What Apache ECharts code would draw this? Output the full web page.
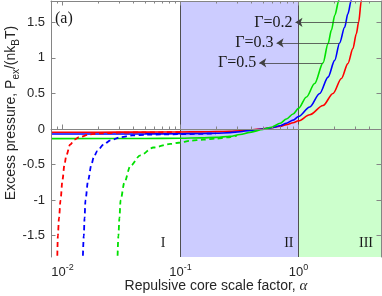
<!DOCTYPE html>
<html><head><meta charset="utf-8">
<script src="https://cdn.jsdelivr.net/npm/echarts@6/dist/echarts.min.js"></script>
<style>html,body{margin:0;padding:0;background:#fff}#c{width:382px;height:296px}</style>
</head><body><div id="c"></div>
<script>
const xMin = 0.008, xMax = 5, yMin = -1.8, yMax = 1.8;
const xMajorTicks = [0.01, 0.1, 1];
const xMinorTicks = [0.009, 0.02, 0.03, 0.04, 0.05, 0.06, 0.07, 0.08, 0.09, 0.2, 0.3, 0.4, 0.5, 0.6, 0.7, 0.8, 0.9, 2, 3, 4];
const yTicks = [-1.5, -1, -0.5, 0, 0.5, 1, 1.5];
const regionEdges = [0.008, 0.1, 1, 5];
const regionNames = ['I', 'II', 'III'];
const gammaLabels = ['\u0393=0.2', '\u0393=0.3', '\u0393=0.5'];
const arrowStart = [[3.22, 1.5], [2.23, 1.21], [1.6, 0.93]];
const arrowEnd = [[0.943, 1.5], [0.652, 1.21], [0.465, 0.93]];

const solidG02 = [[0.008,-0.045],[0.02,-0.045],[0.05,-0.044],[0.1,-0.042],[0.15,-0.04],[0.2,-0.037],[0.263,-0.032],[0.32,-0.024],[0.388,-0.013],[0.5,0.004],[0.59,0.018],[0.7,0.038],[0.79,0.062],[0.9,0.088],[1,0.115],[1.246,0.2],[1.614,0.33],[1.96,0.5],[2.31,0.71],[2.62,0.92],[2.89,1.13],[3.09,1.34],[3.23,1.5],[3.41,1.81],[3.5,1.95]];
const solidG03 = [[0.008,-0.07],[0.05,-0.069],[0.1,-0.067],[0.15,-0.064],[0.2,-0.06],[0.263,-0.051],[0.32,-0.038],[0.388,-0.02],[0.5,0.001],[0.59,0.018],[0.7,0.045],[0.79,0.08],[0.9,0.125],[1,0.175],[1.246,0.31],[1.513,0.5],[1.78,0.73],[2.026,0.965],[2.23,1.21],[2.46,1.43],[2.62,1.62],[2.8,1.81],[2.9,1.95]];
const solidG05 = [[0.008,-0.135],[0.05,-0.134],[0.1,-0.13],[0.15,-0.125],[0.2,-0.118],[0.263,-0.103],[0.32,-0.078],[0.388,-0.047],[0.5,-0.006],[0.59,0.025],[0.7,0.08],[0.79,0.14],[0.9,0.21],[1,0.29],[1.168,0.45],[1.37,0.64],[1.614,0.93],[1.78,1.2],[1.9,1.39],[2.03,1.6],[2.2,1.81],[2.3,1.95]];
const dashG02 = [[0.00902,-1.9],[0.00915,-1.5],[0.00935,-1.25],[0.00964,-1.0],[0.01,-0.72],[0.0104,-0.5],[0.0108,-0.37],[0.0116,-0.22],[0.0127,-0.15],[0.0138,-0.115],[0.017,-0.077],[0.021,-0.062],[0.03,-0.052],[0.05,-0.047],[0.1,-0.044]];
const dashG03 = [[0.01484,-1.9],[0.01517,-1.5],[0.0154,-1.25],[0.01567,-1.0],[0.0165,-0.72],[0.0176,-0.5],[0.0184,-0.4],[0.0197,-0.31],[0.0223,-0.22],[0.0255,-0.16],[0.031,-0.115],[0.039,-0.09],[0.052,-0.08],[0.07,-0.076],[0.1,-0.072],[0.2,-0.063]];
const dashG05 = [[0.0292,-1.9],[0.0298,-1.5],[0.0304,-1.25],[0.0311,-1.0],[0.0335,-0.75],[0.0376,-0.52],[0.0457,-0.37],[0.059,-0.26],[0.082,-0.21],[0.1,-0.19],[0.121,-0.165],[0.156,-0.15],[0.2,-0.135],[0.25,-0.118],[0.3,-0.092]];

const RED = '#ff0000', BLUE = '#0000ff', GREEN = '#00e000';
const AX = '#858585', TXT = '#262626';
const SANS = 'Liberation Sans', SERIF = 'Liberation Serif';

const chart = echarts.init(document.getElementById('c'), null, {renderer: 'canvas'});

function xAxisCfg(pos, ticks, len, showLine, extra) {
  return Object.assign({
    type: 'log', logBase: 10, min: xMin, max: xMax, position: pos, gridIndex: 0, z: 10,
    axisLine: {show: showLine, lineStyle: {color: AX, width: 1}},
    axisTick: {show: true, inside: true, length: len, customValues: ticks, lineStyle: {color: AX, width: 1}},
    axisLabel: {show: false},
    splitLine: {show: false}, minorTick: {show: false}, minorSplitLine: {show: false}
  }, extra || {});
}

const option = {
  animation: false,
  backgroundColor: '#fff',
  title: {text: '(a)', left: 55, top: 11, padding: 0,
    textStyle: {fontFamily: SERIF, fontSize: 16, fontWeight: 'normal', color: '#1a1a1a'}},
  grid: {left: 51, right: 1, top: 1, bottom: 39, containLabel: false, outerBoundsMode: 'none'},
  xAxis: [
    xAxisCfg('bottom', xMajorTicks, 4.5, true, {
      axisLabel: {show: true, customValues: xMajorTicks, margin: 6,
        formatter: v => '{a|10}{b|' + Math.round(Math.log10(v)) + '}',
        rich: {
          a: {fontFamily: SANS, fontSize: 13, color: TXT, lineHeight: 16, verticalAlign: 'bottom'},
          b: {fontFamily: SANS, fontSize: 9, color: TXT, lineHeight: 9, verticalAlign: 'top', padding: [0, 0, 8, 0]}
        }},
      name: '{t|Repulsive core scale factor, }{al|\u03b1}', nameLocation: 'middle', nameGap: 22,
      nameMoveOverlap: false,
      nameTextStyle: {rich: {
        t: {fontFamily: SANS, fontSize: 14, color: TXT},
        al: {fontFamily: SERIF, fontStyle: 'italic', fontSize: 15, color: TXT}
      }}
    }),
    xAxisCfg('bottom', xMinorTicks, 2.5, false),
    xAxisCfg('top', xMajorTicks, 4.5, true),
    xAxisCfg('top', xMinorTicks, 2.5, false)
  ],
  yAxis: [
    {type: 'value', min: yMin, max: yMax, position: 'left', z: 10,
      axisLine: {show: true, lineStyle: {color: AX, width: 1}},
      axisTick: {show: true, inside: true, length: 4.5, customValues: yTicks, lineStyle: {color: AX}},
      axisLabel: {customValues: yTicks, margin: 6, fontFamily: SANS, fontSize: 13, color: TXT,
        formatter: v => String(v)},
      splitLine: {show: false},
      name: '{n|Excess pressure, P}{s|ex}{n|/(nk}{s|B}{n|T)}', nameLocation: 'middle', nameGap: 30,
      nameMoveOverlap: false,
      nameTextStyle: {padding: [0, 0, 0, 32], rich: {
        n: {fontFamily: SANS, fontSize: 14, color: TXT, lineHeight: 17, verticalAlign: 'top'},
        s: {fontFamily: SANS, fontSize: 10, color: TXT, lineHeight: 10, verticalAlign: 'bottom', padding: [8, 0, 0, 0]}
      }}
    },
    {type: 'value', min: yMin, max: yMax, position: 'right', z: 10,
      axisLine: {show: true, lineStyle: {color: AX, width: 1}},
      axisTick: {show: true, inside: true, length: 4.5, customValues: yTicks, lineStyle: {color: AX}},
      axisLabel: {show: false}, splitLine: {show: false}}
  ],
  series: [
    {name: 'g02', type: 'line', data: solidG02, showSymbol: false, smooth: 0.3, smoothMonotone: 'x',
      lineStyle: {color: RED, width: 1.6}, itemStyle: {color: RED},
      markArea: {silent: true, z: 1,
        label: {show: true, position: 'insideBottomRight', distance: 7, fontFamily: SERIF, fontSize: 14, color: '#1a1a1a'},
        data: [
          [{name: regionNames[0], xAxis: regionEdges[0], itemStyle: {color: 'rgba(0,0,0,0)'}, label: {offset: [-8, 0]}}, {xAxis: regionEdges[1]}],
          [{name: regionNames[1], xAxis: regionEdges[1], itemStyle: {color: '#ccccff'}, label: {offset: [2, 0]}}, {xAxis: regionEdges[2]}],
          [{name: regionNames[2], xAxis: regionEdges[2], itemStyle: {color: '#ccffcc'}, label: {offset: [-1, 0]}}, {xAxis: regionEdges[3]}]
        ]},
      markLine: {silent: true, z: 1.5, symbol: ['none', 'none'], label: {show: false},
        lineStyle: {color: '#505050', width: 1, type: 'solid'},
        data: [{xAxis: regionEdges[1]}, {xAxis: regionEdges[2]}]}
    },
    {name: 'g03', type: 'line', data: solidG03, showSymbol: false, smooth: 0.3, smoothMonotone: 'x',
      lineStyle: {color: BLUE, width: 1.6}, itemStyle: {color: BLUE}},
    {name: 'g05', type: 'line', data: solidG05, showSymbol: false, smooth: 0.3, smoothMonotone: 'x',
      lineStyle: {color: GREEN, width: 1.6}, itemStyle: {color: GREEN}},
    {name: 'd02', type: 'line', data: dashG02, showSymbol: false, smooth: 0.3, smoothMonotone: 'x',
      lineStyle: {color: RED, width: 1.8, type: [5, 3.5]}, itemStyle: {color: RED}},
    {name: 'd03', type: 'line', data: dashG03, showSymbol: false, smooth: 0.3, smoothMonotone: 'x',
      lineStyle: {color: BLUE, width: 1.8, type: [5, 3.5]}, itemStyle: {color: BLUE}},
    {name: 'd05', type: 'line', data: dashG05, showSymbol: false, smooth: 0.3, smoothMonotone: 'x',
      lineStyle: {color: GREEN, width: 1.8, type: [5, 3.5]}, itemStyle: {color: GREEN},
      markLine: {silent: true, z: 6, symbol: ['none', 'arrow'], symbolSize: 7, precision: 4,
        lineStyle: {color: '#404040', width: 0.8, type: 'solid'},
        itemStyle: {color: '#111'},
        label: {show: true, position: 'end', distance: 3, fontFamily: SERIF, fontSize: 16, color: '#1a1a1a'},
        data: gammaLabels.map((g, i) => [
          {coord: arrowStart[i], label: {formatter: g}},
          {coord: arrowEnd[i]}
        ])}
    }
  ]
};
chart.setOption(option);
</script></body></html>
